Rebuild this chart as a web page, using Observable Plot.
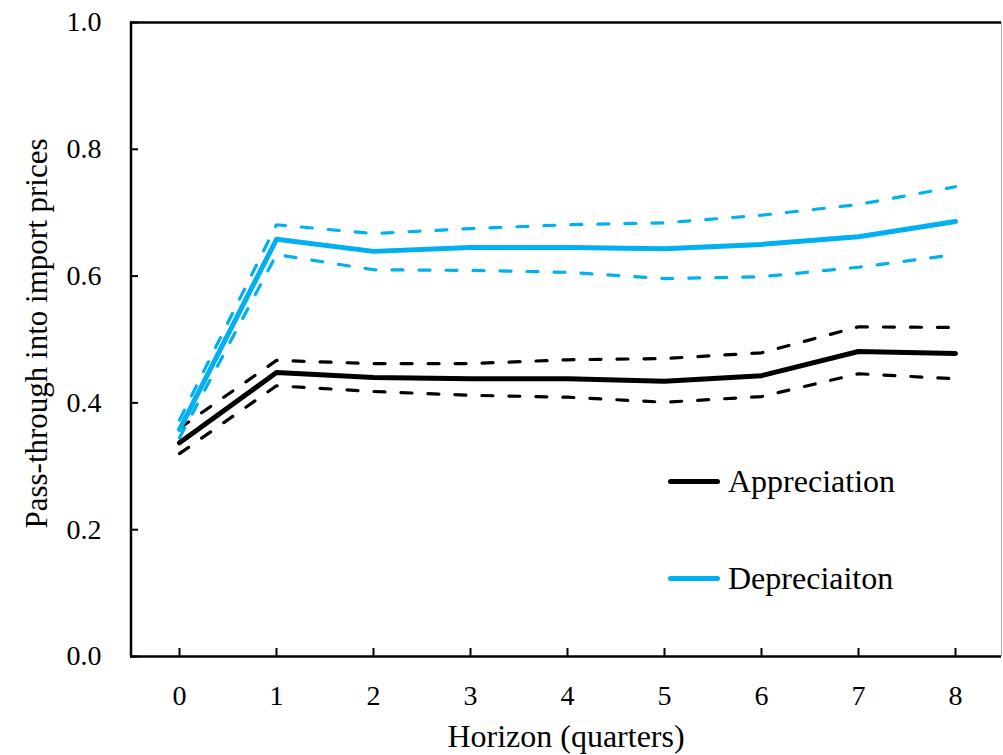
<!DOCTYPE html>
<html><head><meta charset="utf-8">
<script src="https://cdn.jsdelivr.net/npm/d3@7"></script>
<script src="https://cdn.jsdelivr.net/npm/@observablehq/plot@0.6"></script>
<style>
body{margin:0;background:#fff;}
#wrap{position:relative;width:1003px;height:755px;font-family:"Liberation Serif","Times New Roman",serif;}
#wrap svg text{font-family:"Liberation Serif","Times New Roman",serif !important;font-variant:normal !important;}
.leg{position:absolute;left:668px;height:40px;display:flex;align-items:center;font-size:32px;color:#000;white-space:nowrap;}
.sw{width:52px;height:5px;border-radius:3px;margin-right:8px;}
</style></head><body><div id="wrap"></div>
<script>
const horizon = [0, 1, 2, 3, 4, 5, 6, 7, 8];
const appreciation = [0.337, 0.448, 0.440, 0.438, 0.438, 0.434, 0.443, 0.481, 0.478];
const appUpper     = [0.360, 0.467, 0.462, 0.462, 0.468, 0.470, 0.479, 0.520, 0.519];
const appLower     = [0.320, 0.427, 0.418, 0.412, 0.409, 0.401, 0.410, 0.446, 0.438];
const depreciation = [0.358, 0.658, 0.639, 0.645, 0.645, 0.643, 0.650, 0.662, 0.686];
const depUpper     = [0.373, 0.681, 0.667, 0.675, 0.681, 0.684, 0.696, 0.713, 0.741];
const depLower     = [0.345, 0.634, 0.610, 0.609, 0.606, 0.596, 0.599, 0.614, 0.634];
const yTicks = [0, 0.2, 0.4, 0.6, 0.8, 1.0];
const seriesNames = ["Appreciation", "Depreciaiton"];
const colors = ["#000000", "#00B0F0"];
const xTitle = "Horizon (quarters)";
const yTitle = "Pass-through into import prices";

const rows = (vals) => horizon.map((h, i) => ({h, v: vals[i]}));
const dash = {strokeWidth: 3.2, strokeDasharray: "11,16", strokeLinecap: "round", strokeLinejoin: "round"};
const solid = {strokeWidth: 5, strokeLinecap: "round", strokeLinejoin: "round"};
const font = '"Liberation Serif","Times New Roman",serif';

const chart = Plot.plot({
  width: 1003, height: 755,
  marginLeft: 130, marginRight: 2, marginTop: 22, marginBottom: 99,
  style: {fontFamily: font, background: "#fff", color: "#000"},
  x: {domain: [-0.5, 8.5], range: [130.5, 1003.5]},
  y: {domain: [0, 1]},
  marks: [
    Plot.ruleX([8.5], {stroke: "#b0b0b0", strokeWidth: 1, dx: -2.5}),
    Plot.ruleY([1], {stroke: "#000", strokeWidth: 2.5}),
    Plot.line(rows(depUpper), {x: "h", y: "v", stroke: colors[1], ...dash}),
    Plot.line(rows(depLower), {x: "h", y: "v", stroke: colors[1], ...dash}),
    Plot.line(rows(appUpper), {x: "h", y: "v", stroke: colors[0], ...dash}),
    Plot.line(rows(appLower), {x: "h", y: "v", stroke: colors[0], ...dash}),
    Plot.line(rows(appreciation), {x: "h", y: "v", stroke: colors[0], ...solid}),
    Plot.line(rows(depreciation), {x: "h", y: "v", stroke: colors[1], ...solid}),
    Plot.axisY(yTicks, {tickSize: 8, dx: 8, text: null, strokeWidth: 2, label: null}),
    Plot.axisY(yTicks, {tickSize: 0, tickPadding: 29, tickFormat: d3.format(".1f"), fontSize: 28, fontFamily: font, fontVariant: "normal", fill: "#000", label: null}),
    Plot.axisX(horizon, {tickSize: 8, dy: -8, text: null, strokeWidth: 2, label: null}),
    Plot.axisX(horizon, {tickSize: 0, tickPadding: 29, fontSize: 28, fontFamily: font, fontVariant: "normal", fill: "#000", label: null}),
    Plot.ruleX([-0.5], {stroke: "#000", strokeWidth: 2.5}),
    Plot.ruleY([0], {stroke: "#000", strokeWidth: 2.5}),
    Plot.text([xTitle], {frameAnchor: "bottom", dy: 90, fontSize: 32, fontFamily: font, fill: "#000"}),
    Plot.text([yTitle], {frameAnchor: "left", textAnchor: "middle", dx: -93, dy: -6, rotate: -90, fontSize: 31, fontFamily: font, fill: "#000"})
  ]
});
const wrap = document.getElementById("wrap");
wrap.appendChild(chart);
const legTops = [461, 558];
seriesNames.forEach((name, i) => {
  const d = document.createElement("div");
  d.className = "leg";
  d.style.top = legTops[i] + "px";
  const s = document.createElement("span");
  s.className = "sw"; s.style.background = colors[i];
  d.appendChild(s);
  d.appendChild(document.createTextNode(name));
  wrap.appendChild(d);
});
</script></body></html>
